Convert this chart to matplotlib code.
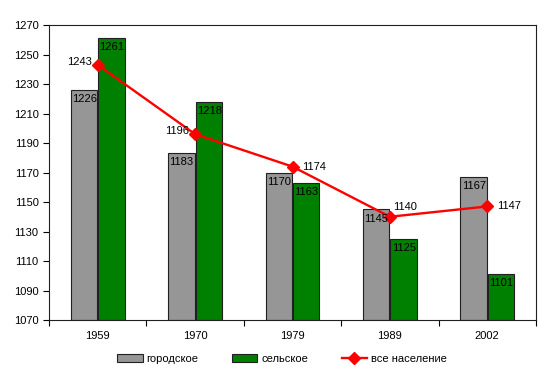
import matplotlib.pyplot as plt
import numpy as np

years = ["1959", "1970", "1979", "1989", "2002"]
urban = [1226, 1183, 1170, 1145, 1167]
rural = [1261, 1218, 1163, 1125, 1101]
total = [1243, 1196, 1174, 1140, 1147]

plt.rcParams['font.family'] = ['Liberation Sans', 'DejaVu Sans']
plt.rcParams['font.size'] = 8

fig = plt.figure(figsize=(5.51, 3.74), dpi=100)
ax = fig.add_axes([49 / 551, 1 - 320 / 374, 487 / 551, 295 / 374])

x = np.arange(len(years))
w = 0.272
off = 0.141
b1 = ax.bar(x - off, np.array(urban) - 1070, w, bottom=1070, color="#969696",
            edgecolor="#202020", linewidth=0.8, label="городское", zorder=2)
b2 = ax.bar(x + off, np.array(rural) - 1070, w, bottom=1070, color="#008000",
            edgecolor="#202020", linewidth=0.8, label="сельское", zorder=2)
ax.plot(x, total, color="#FF0000", lw=1.7, marker="D", ms=6.5,
        label="все население", zorder=3)

# labels inside bars
for xs, vals in ((x - off, urban), (x + off, rural)):
    for xi, v in zip(xs, vals):
        ax.annotate(str(v), (xi - w / 2, v), xytext=(1, -3),
                    textcoords="offset points", ha="left", va="top",
                    fontsize=8, zorder=4)

# labels for the line
line_off = [(-4, 2, "right"), (-4, 2, "right"), (7, 0, "left"),
            (2, 7, "left"), (7, 0, "left")]
for xi, v, (dx, dy, ha) in zip(x, total, line_off):
    ax.annotate(str(v), (xi, v), xytext=(dx, dy), textcoords="offset points",
                ha=ha, va="center", fontsize=8, zorder=4)

ax.set_xlim(-0.5, 4.5)
ax.set_ylim(1070, 1270)
ax.set_yticks(np.arange(1070, 1271, 20))
ax.set_xticks(x)
ax.set_xticklabels(years)
ax.set_xticks(np.arange(-0.5, 4.6, 1), minor=True)
ax.tick_params(axis="x", which="major", length=0, pad=8)
ax.tick_params(axis="x", which="minor", length=4, direction="out", width=0.8)
ax.tick_params(axis="y", length=4, direction="out", width=0.8)
for s in ax.spines.values():
    s.set_color("#202020")
    s.set_linewidth(0.8)

fig.legend(handles=[b1, b2, ax.lines[0]], loc="center", ncol=3,
           bbox_to_anchor=(282 / 551, 1 - 359 / 374), frameon=False, fontsize=8,
           handlelength=2.3, handleheight=0.7, columnspacing=3.0,
           handletextpad=0.35)

fig.savefig("out.png", dpi=100)
